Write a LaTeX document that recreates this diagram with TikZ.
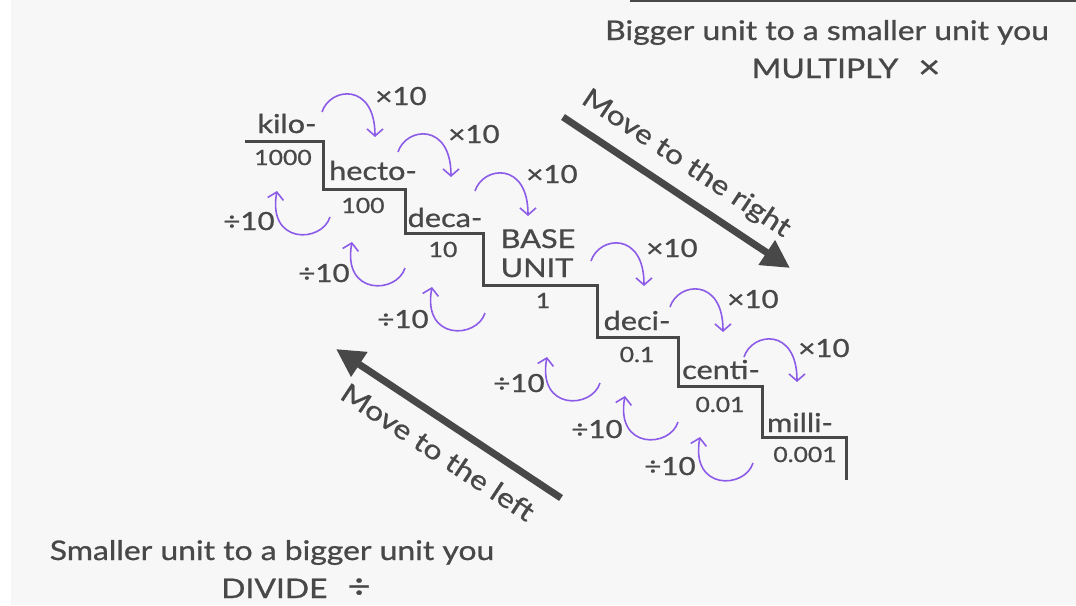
\documentclass[tikz,border=0pt]{standalone}
\usepackage{fontspec}
\setmainfont{Lato}[FakeStretch=1.18, FakeBold=0.9]
\usetikzlibrary{arrows.meta,calc}
\definecolor{bgc}{HTML}{F7F7F7}
\definecolor{ink}{HTML}{484848}
\definecolor{purp}{RGB}{140,92,232}
\begin{document}
\begin{tikzpicture}[x=1pt,y=-1pt,
  stair/.style={draw=ink, line width=3pt, line join=miter},
  lbl/.style={text=ink, font=\fontsize{26}{28}\selectfont, inner sep=0pt, anchor=base},
  num/.style={text=ink, font=\fontsize{21}{23}\selectfont, inner sep=0pt, anchor=base},
  op/.style={text=ink, font=\fontsize{25}{27}\selectfont, inner sep=0pt, anchor=base},
  headtxt/.style={text=ink, font=\fontsize{27}{30}\selectfont, inner sep=0pt},
  bigarrow/.style={draw=ink, line width=7pt, -{Triangle[length=28pt,width=28pt]}},
  curl/.style={draw=purp, line width=1.6pt, -{Straight Barb[length=7pt,width=16pt]}}
]
\useasboundingbox (0,0) rectangle (1076,605);
\fill[white] (0,0) rectangle (1076,605);
\fill[bgc] (11,0) rectangle (1076,605);
\draw[ink, line width=2pt] (630,1) -- (1076,1);

% headings
\node[headtxt, anchor=base] (t1) at (827,40) {Bigger unit to a smaller unit you};
\node[headtxt, anchor=base] (t2) at (846,78) {MULTIPLY\hspace{20pt}{\fontsize{32}{34}\selectfont ×}};
\node[headtxt, anchor=base] (b1) at (272,560) {Smaller unit to a bigger unit you};
\node[headtxt, anchor=base] (b2) at (296,598) {DIVIDE\hspace{20pt}{\fontsize{34}{36}\selectfont ÷}};

% staircase
\draw[stair] (245,141) -- (323,141) -- (323,189) -- (405,189) -- (405,233)
  -- (483,233) -- (483,285) -- (597,285) -- (597,337) -- (678,337)
  -- (678,386) -- (762,386) -- (762,437) -- (846,437) -- (846,480);

% prefixes
\node[lbl] (kilo) at (287,133) {kilo-};
\node[num] (n1000) at (283,165) {1000};
\node[lbl] (hecto) at (373,180) {hecto-};
\node[num] (n100) at (363,213) {100};
\node[lbl] (deca) at (445,227) {deca-};
\node[num] (n10) at (443,257) {10};
\node[lbl] (base) at (538,248) {BASE};
\node[lbl] (unit) at (537,277) {UNIT};
\node[num] (n1) at (543,308) {1};
\node[lbl] (deci) at (637,330) {deci-};
\node[num] (n01) at (637,362) {0.1};
\node[lbl] (centi) at (721,379) {centi-};
\node[num] (n001) at (720,412) {0.01};
\node[lbl] (milli) at (800,432) {milli-};
\node[num] (n0001) at (805,462) {0.001};

% multiply curls
\foreach \n/\x/\y/\lx/\ly in {1/322/112/401/105, 2/398/152/474/143, 3/475/191/552/183,
    4/591/261/672/257, 5/670/307/753/308, 6/744/357/824/357} {
  \coordinate (m\n) at (\x,\y);
  \draw[curl] (m\n) .. controls ($(m\n)+(8,-25)$) and ($(m\n)+(53,-30)$) .. ($(m\n)+(53,25)$);
  \node[op] (mx\n) at (\lx,\ly) {×10};
}
% divide curls
\foreach \n/\x/\y/\lx/\ly in {1/330/217/249/230, 2/405/268/324/282, 3/485/313/403/328,
    4/600/383/519/392, 5/678/422/597/438, 6/753/463/670/475} {
  \coordinate (d\n) at (\x,\y);
  \draw[curl] (d\n) .. controls ($(d\n)+(-8,26)$) and ($(d\n)+(-63,28)$) .. ($(d\n)+(-53,-26)$);
  \node[op] (dx\n) at (\lx,\ly) {÷10};
}

% big arrows
\coordinate (r1) at (563,117);
\coordinate (r2) at (790,268);
\draw[bigarrow] (r1) -- (r2);
\node[headtxt, rotate=-33.6] (mr) at (686,164) {Move to the right};
\coordinate (l1) at (561,498);
\coordinate (l2) at (336,349);
\draw[bigarrow] (l1) -- (l2);
\node[headtxt, rotate=-33.5] (ml) at (438,452) {Move to the left};
\end{tikzpicture}
\end{document}
